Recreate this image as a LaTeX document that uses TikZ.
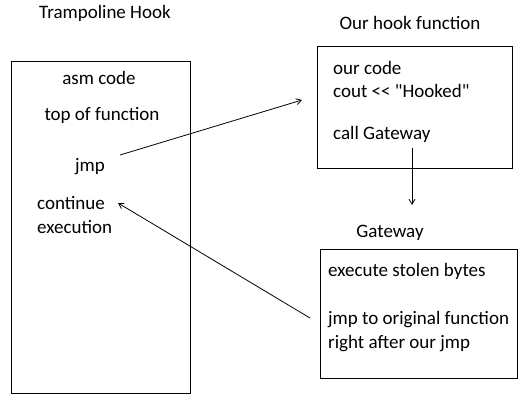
\documentclass[tikz,border=0pt]{standalone}
\usepackage{fontspec}
\setmainfont{Carlito}[Ligatures=TeXOff]
\usetikzlibrary{arrows.meta}

\tikzset{
    box/.style={draw, line width=1pt},
    txt/.style={inner sep=0pt, font=\fontsize{19}{22}\selectfont},
    link/.style={line width=0.8pt, -{Straight Barb[length=5pt,width=6pt]}}
}

\begin{document}
\begin{tikzpicture}[x=1pt, y=-1pt]
\useasboundingbox (0,0) rectangle (522,400);

% Cajas
\draw[box] (11,61) rectangle (190,393);
\draw[box] (317,46) rectangle (512,168);
\draw[box] (320,249) rectangle (517,378);

% Titulos
\node[txt] (title) at (105,13) {Trampoline Hook};
\node[txt] (hooktitle) at (410,23) {Our hook function};
\node[txt] (gwtitle) at (390,233) {Gateway};

% Texto de la funcion original
\foreach \name/\x/\y/\txt in {
    asm/99/78/{asm code},
    top/102/115/{top of function},
    jmp/90/167/{jmp}} {
    \node[txt] (\name) at (\x,\y) {\txt};
}
\foreach \name/\y/\txt in {cont/203/continue, exec/227/execution} {
    \node[txt, anchor=west] (\name) at (37,\y) {\txt};
}

% Texto de las cajas de la derecha
\foreach \name/\x/\y/\txt in {
    ourcode/333/68/{our code},
    cout/333/91/{cout << "Hooked"},
    call/333/134/{call Gateway},
    stolen/328/271/{execute stolen bytes},
    orig/328/320/{jmp to original function},
    after/328/344/{right after our jmp}} {
    \node[txt, anchor=west] (\name) at (\x,\y) {\txt};
}

% Flechas
\coordinate (jmpout) at (120,155);
\coordinate (hookin) at (302,100);
\coordinate (callout) at (412,148);
\coordinate (gwin) at (412,205);
\coordinate (gwout) at (310,318);
\coordinate (contin) at (118,203);

\draw[link] (jmpout) -- (hookin);
\draw[link] (callout) -- (gwin);
\draw[link] (gwout) -- (contin);
\end{tikzpicture}
\end{document}
